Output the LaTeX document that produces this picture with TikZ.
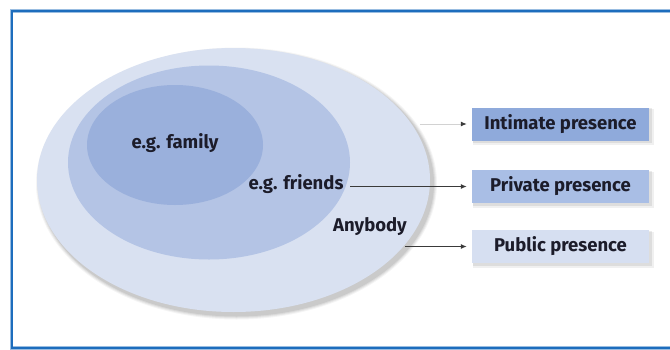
\documentclass[tikz,border=0pt]{standalone}
\usepackage{fontspec}
\setmainfont{Fira Sans}
\usetikzlibrary{arrows.meta,shapes.geometric}

\definecolor{frameblue}{HTML}{1D6DBD}
\definecolor{ringout}{HTML}{D9E1F1}
\definecolor{ringmid}{HTML}{B4C4E5}
\definecolor{ringin}{HTML}{9AB0DC}
\definecolor{boxone}{HTML}{8FAADB}
\definecolor{boxtwo}{HTML}{A9BEE5}
\definecolor{boxthree}{HTML}{D6DFF1}
\definecolor{inkdark}{HTML}{1C1C2A}
\definecolor{lineDark}{HTML}{3A3A3A}
\definecolor{lineFaint}{HTML}{D2D2D2}

\tikzset{
  label text/.style={text=inkdark, font=\fontsize{18.5}{22}\selectfont\bfseries, inner sep=0pt},
  ring/.style={ellipse, inner sep=0pt, draw=none},
  ringshadow/.style={ellipse, inner sep=0pt, draw=none, fill=black, fill opacity=#1},
  presencebox/.style={rectangle, minimum width=177pt, minimum height=33pt, inner sep=0pt,
    text=inkdark, font=\fontsize{18.5}{22}\selectfont\bfseries},
  boxshade/.style={fill=black, fill opacity=#1, draw=none},
  pointer/.style={line width=1pt, draw=lineDark, -{Latex[length=6pt,width=5pt]}, shorten >=5pt},
  faintpointer/.style={line width=1pt, draw=lineFaint, -{Latex[length=6pt,width=5pt,color=lineDark]}, shorten >=5pt},
}

\begin{document}
\begin{tikzpicture}[x=1pt,y=-1pt]
  \useasboundingbox (0,0) rectangle (670,349);
  \fill[white] (0,0) rectangle (670,349);

  % frame, open towards the right edge
  \draw[frameblue!45, line width=3.6pt] (11.5,11) rectangle (700,348);
  \draw[frameblue, line width=2pt] (11.5,11) rectangle (700,348);

  % soft shadows under the rings
  \foreach \s/\o in {8/0.04,6/0.05,4/0.06,2/0.07}{
    \node[ringshadow=\o, minimum width=393pt+\s pt, minimum height=264pt+\s pt] at (236.5,183.5) {};
  }
  \foreach \s/\o in {4/0.05,2/0.06}{
    \node[ringshadow=\o, minimum width=282pt+\s pt, minimum height=194pt+\s pt] at (211,164.5) {};
  }

  % nested circles of presence
  \node[ring, fill=ringout, minimum width=393pt, minimum height=264pt] (anybodyring) at (233.5,180) {};
  \node[ring, fill=ringmid, minimum width=282pt, minimum height=194pt] (friendsring) at (209,162.5) {};
  \node[ring, fill=ringin,  minimum width=176pt, minimum height=120pt] (familyring) at (175,145) {};

  \node[label text] (family)  at (175,143) {e.g. family};
  \node[label text] (friends) at (296,184) {e.g. friends};
  \node[label text] (anybody) at (370,227) {Anybody};

  % presence boxes with shading
  \foreach \y in {124,186.5,246.5}{
    \fill[boxshade=0.06] (473,\y-15) rectangle (654,\y+21);
    \fill[boxshade=0.08] (473,\y-16) rectangle (652,\y+19);
  }
  \node[presencebox, fill=boxone]   (intimate) at (560.5,124)   {Intimate presence};
  \node[presencebox, fill=boxtwo]   (private)  at (560.5,186.5) {Private presence};
  \node[presencebox, fill=boxthree] (public)   at (560.5,246.5) {Public presence};

  % connectors
  \coordinate (intimatestart) at (420,124);
  \coordinate (privatestart)  at (350,186.5);
  \coordinate (publicstart)   at (405,246.5);
  \draw[faintpointer] (intimatestart) -- (intimate.west);
  \draw[pointer] (privatestart) -- (private.west);
  \draw[pointer] (publicstart) -- (public.west);
\end{tikzpicture}
\end{document}
